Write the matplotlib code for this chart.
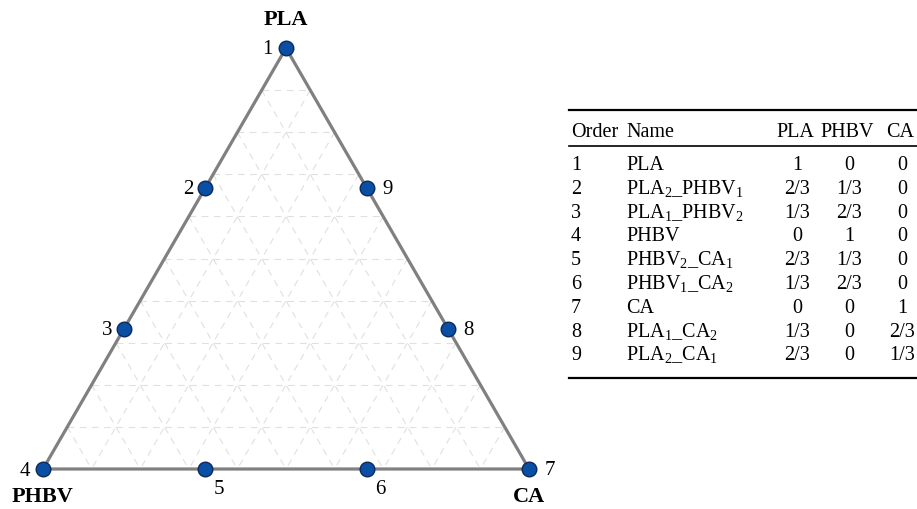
import numpy as np
import matplotlib
matplotlib.use("Agg")
import matplotlib.pyplot as plt

plt.rcParams['font.family'] = ['Liberation Serif', 'DejaVu Serif']
plt.rcParams['mathtext.fontset'] = 'custom'
plt.rcParams['mathtext.rm'] = 'Liberation Serif'
plt.rcParams['mathtext.it'] = 'Liberation Serif:italic'

# ternary compositions (PLA, PHBV, CA) of the mixture points, order 1..9
order = [1, 2, 3, 4, 5, 6, 7, 8, 9]
pla = [1, 2/3, 1/3, 0, 0, 0, 0, 1/3, 2/3]
phbv = [0, 1/3, 2/3, 1, 2/3, 1/3, 0, 0, 0]
ca = [0, 0, 0, 0, 1/3, 2/3, 1, 2/3, 1/3]
corners = ['PLA', 'PHBV', 'CA']

# table contents, as printed
tab_names = ['PLA', 'PLA$_2$_PHBV$_1$', 'PLA$_1$_PHBV$_2$', 'PHBV',
             'PHBV$_2$_CA$_1$', 'PHBV$_1$_CA$_2$', 'CA',
             'PLA$_1$_CA$_2$', 'PLA$_2$_CA$_1$']
tab_pla = ['1', '2/3', '1/3', '0', '2/3', '1/3', '0', '1/3', '2/3']
tab_phbv = ['0', '1/3', '2/3', '1', '1/3', '2/3', '0', '0', '0']
tab_ca = ['0', '0', '0', '0', '0', '0', '1', '2/3', '1/3']
tab_header = ['Order', 'Name', 'PLA', 'PHBV', 'CA']

W, H = 917, 509
fig = plt.figure(figsize=(W / 100, H / 100), dpi=100)

# triangle axes: PHBV at (0,0), CA at (1,0), PLA at top
s = 486.0
ax = fig.add_axes([0, 0, 1, 1])
ax.set_xlim(-43 / s, (W - 43) / s)
ax.set_ylim(-40 / s, (H - 40) / s)
ax.axis('off')

h = np.sqrt(3) / 2


def to_xy(a, b, c):
    # a = PLA, b = PHBV, c = CA
    a, b, c = np.asarray(a, float), np.asarray(b, float), np.asarray(c, float)
    x = c + a * 0.5
    y = a * h
    return x, y


# dashed grid at tenths
gcol = '#e0e0e0'
for k in range(1, 10):
    f = k / 10
    # constant PLA
    x, y = to_xy([f, f], [1 - f, 0], [0, 1 - f])
    ax.plot(x, y, color=gcol, lw=0.8, ls=(0, (6, 5)), zorder=1)
    # constant PHBV
    x, y = to_xy([1 - f, 0], [f, f], [0, 1 - f])
    ax.plot(x, y, color=gcol, lw=0.8, ls=(0, (6, 5)), zorder=1)
    # constant CA
    x, y = to_xy([1 - f, 0], [0, 1 - f], [f, f])
    ax.plot(x, y, color=gcol, lw=0.8, ls=(0, (6, 5)), zorder=1)

# triangle outline
tx, ty = to_xy([1, 0, 0, 1], [0, 1, 0, 0], [0, 0, 1, 0])
ax.plot(tx, ty, color='#808080', lw=2.3, zorder=2, solid_joinstyle='miter')

px, py = to_xy(pla, phbv, ca)
ax.plot(px, py, 'o', ms=10.5, mfc='#0a4fa3', mec='#0b2a5c', mew=1.0, zorder=3,
        clip_on=False)

# number label offsets (points)
offs = {1: (-10, -1, 'right'), 2: (-8, -1, 'right'), 3: (-8, -1, 'right'),
        4: (-9, -2, 'right'), 5: (6, -15, 'left'), 6: (6, -15, 'left'),
        7: (11, -1, 'left'), 8: (11, -1, 'left'), 9: (11, -1, 'left')}
for n, x, y in zip(order, px, py):
    dx, dy, ha = offs[n]
    ax.annotate(str(n), (x, y), xytext=(dx, dy), textcoords='offset points',
                ha=ha, va='center', fontsize=15)

cx, cy = to_xy([1, 0, 0], [0, 1, 0], [0, 0, 1])
ax.annotate(corners[0], (cx[0], cy[0]), xytext=(0, 20), textcoords='offset points',
            ha='center', va='center', fontsize=16, fontweight='bold')
ax.annotate(corners[1], (cx[1], cy[1]), xytext=(0, -20), textcoords='offset points',
            ha='center', va='center', fontsize=16, fontweight='bold')
ax.annotate(corners[2], (cx[2], cy[2]), xytext=(0, -20), textcoords='offset points',
            ha='center', va='center', fontsize=16, fontweight='bold')

# table in pixel coordinates
tb = fig.add_axes([0, 0, 1, 1])
tb.set_xlim(0, W)
tb.set_ylim(H, 0)
tb.axis('off')
tb.patch.set_alpha(0)

fs = 14.5
tb.plot([569, 917], [110, 110], color='black', lw=1.6)
tb.plot([569, 917], [146, 146], color='black', lw=1.2)
tb.plot([569, 917], [378, 378], color='black', lw=1.6)

xs = [571, 626, 797, 849, 902]
hx = [571, 626, 795, 847, 900]
hy = 137
tb.text(hx[0], hy, tab_header[0], ha='left', va='baseline', fontsize=fs)
tb.text(hx[1], hy, tab_header[1], ha='left', va='baseline', fontsize=fs)
for j in range(2, 5):
    tb.text(hx[j], hy, tab_header[j], ha='center', va='baseline', fontsize=fs)

for i in range(len(order)):
    y = 170 + i * 23.8
    tb.text(xs[0], y, str(order[i]), ha='left', va='baseline', fontsize=fs)
    tb.text(xs[1], y, tab_names[i], ha='left', va='baseline', fontsize=fs)
    tb.text(xs[2], y, tab_pla[i], ha='center', va='baseline', fontsize=fs)
    tb.text(xs[3], y, tab_phbv[i], ha='center', va='baseline', fontsize=fs)
    tb.text(xs[4], y, tab_ca[i], ha='center', va='baseline', fontsize=fs)

fig.savefig('out.png', dpi=100)
